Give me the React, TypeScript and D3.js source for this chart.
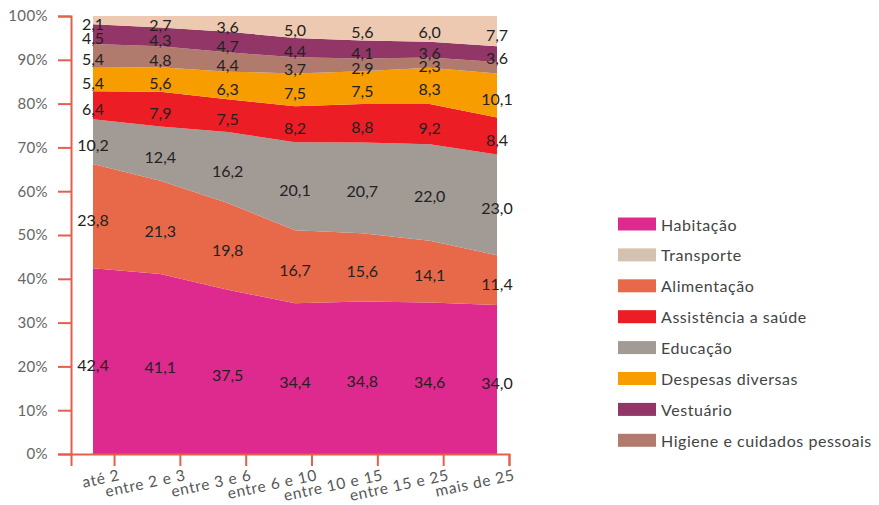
import React, { useEffect, useRef } from 'react';
import * as d3 from 'd3';

// Faixas de renda (salários mínimos)
const incomeBands = ['até 2', 'entre 2 e 3', 'entre 3 e 6', 'entre 6 e 10', 'entre 10 e 15', 'entre 15 e 25', 'mais de 25'];

// Participação de cada grupo de despesa (%)
const habitacao = [42.4, 41.1, 37.5, 34.4, 34.8, 34.6, 34.0];
const alimentacao = [23.8, 21.3, 19.8, 16.7, 15.6, 14.1, 11.4];
const educacao = [10.2, 12.4, 16.2, 20.1, 20.7, 22.0, 23.0];
const assistencia = [6.4, 7.9, 7.5, 8.2, 8.8, 9.2, 8.4];
const despesas = [5.4, 5.6, 6.3, 7.5, 7.5, 8.3, 10.1];
const higiene = [5.4, 4.8, 4.4, 3.7, 2.9, 2.3, 2.6];
const vestuario = [4.5, 4.3, 4.7, 4.4, 4.1, 3.6, 3.6];
const transporte = [2.1, 2.7, 3.6, 5.0, 5.6, 6.0, 7.7];

// Values printed on the chart (null = no label)
const higieneLabels = [5.4, 4.8, 4.4, 3.7, 2.9, 2.3, null];

const yTicks = [0, 10, 20, 30, 40, 50, 60, 70, 80, 90, 100];

type Series = { key: string; name: string; values: number[]; labels: (number | null)[]; color: string; swatch: string };

// Stack order, bottom to top
const series: Series[] = [
  { key: 'hab', name: 'Habitação', values: habitacao, labels: habitacao, color: '#de2a8e', swatch: '#de2a8e' },
  { key: 'ali', name: 'Alimentação', values: alimentacao, labels: alimentacao, color: '#e8694a', swatch: '#e8694a' },
  { key: 'edu', name: 'Educação', values: educacao, labels: educacao, color: '#a19a95', swatch: '#a19a95' },
  { key: 'sau', name: 'Assistência a saúde', values: assistencia, labels: assistencia, color: '#ec1d25', swatch: '#ec1d25' },
  { key: 'div', name: 'Despesas diversas', values: despesas, labels: despesas, color: '#f89d00', swatch: '#f89d00' },
  { key: 'hig', name: 'Higiene e cuidados pessoais', values: higiene, labels: higieneLabels, color: '#b07a6c', swatch: '#b07a6c' },
  { key: 'ves', name: 'Vestuário', values: vestuario, labels: vestuario, color: '#923667', swatch: '#923667' },
  { key: 'tra', name: 'Transporte', values: transporte, labels: transporte, color: '#edc9b1', swatch: '#d4c1af' },
];

const legendOrder = ['hab', 'tra', 'ali', 'sau', 'edu', 'div', 'ves', 'hig'];

const W = 879;
const H = 505;
const FONT = 'Lato, "Open Sans", sans-serif';
const AXIS = '#e2614e';

const fmt = (v: number) => v.toFixed(1).replace('.', ',');

export default function App() {
  const xAxisRef = useRef<SVGGElement>(null);
  const yAxisRef = useRef<SVGGElement>(null);

  const y = d3.scaleLinear().domain([0, 100]).range([454, 16]);
  const x = d3.scalePoint<string>().domain(incomeBands).range([93, 497]);
  const xAxisScale = d3.scalePoint<string>().domain(incomeBands).range([71, 509]).padding(0.327).align(1);

  const rows = incomeBands.map((band, i) => {
    const row: Record<string, number | string> = { band };
    series.forEach((s) => (row[s.key] = s.values[i]));
    return row;
  });
  const stacked = d3.stack<Record<string, number | string>>().keys(series.map((s) => s.key))(rows as any);

  const area = d3
    .area<d3.SeriesPoint<Record<string, number | string>>>()
    .x((d) => x(d.data.band as string)!)
    .y0((d) => y(d[0]))
    .y1((d) => y(d[1]))
    .curve(d3.curveLinear);

  useEffect(() => {
    const gx = d3.select(xAxisRef.current!);
    gx.selectAll('*').remove();
    gx.call(d3.axisBottom(xAxisScale).tickSize(12).tickSizeOuter(12));
    gx.selectAll('path, line').attr('stroke', AXIS).attr('stroke-width', 2);
    gx.selectAll('text')
      .attr('x', 0)
      .attr('y', 0)
      .attr('dy', 0)
      .attr('transform', 'translate(6,26) rotate(-12)')
      .attr('text-anchor', 'end')
      .attr('fill', '#555')
      .style('font-family', FONT)
      .style('font-size', '15.5px')
      .style('letter-spacing', '0.7px');

    const gy = d3.select(yAxisRef.current!);
    gy.selectAll('*').remove();
    gy.call(
      d3
        .axisLeft(y)
        .tickValues(yTicks)
        .tickFormat((d) => `${d}%`)
        .tickSize(13)
        .tickSizeOuter(13)
        .tickPadding(10)
    );
    gy.selectAll('path, line').attr('stroke', AXIS).attr('stroke-width', 2);
    gy.selectAll('text')
      .attr('fill', '#666')
      .style('font-family', FONT)
      .style('font-size', '15px')
      .style('letter-spacing', '0.4px');
  }, []);

  const top = y(100);

  return (
    <svg width={W} height={H} style={{ position: 'absolute', left: 0, top: 0, background: '#fff' }}>
      <defs>
        <clipPath id="plot-clip">
          <rect x={0} y={top} width={W} height={y(0) - top} />
        </clipPath>
      </defs>

      <g clipPath="url(#plot-clip)">
        {stacked.map((layer, li) => (
          <path key={layer.key} d={area(layer) ?? ''} fill={series[li].color} />
        ))}
      </g>

      <g ref={xAxisRef} transform={`translate(0,${y(0)})`} />
      <g ref={yAxisRef} transform={`translate(71,0)`} />

      <g style={{ fontFamily: FONT, fontSize: '16px' }} fill="#222">
        {stacked.map((layer, li) =>
          layer.map((d, i) => {
            const v = series[li].labels[i];
            if (v == null) return null;
            const mid = (d[0] + Math.min(d[1], 100)) / 2;
            return (
              <text
                key={`${layer.key}-${i}`}
                x={x(incomeBands[i])!}
                y={y(mid) + 3}
                textAnchor="middle"
                dominantBaseline="central"
              >
                {fmt(v)}
              </text>
            );
          })
        )}
      </g>

      <g style={{ fontFamily: FONT, fontSize: '16px', letterSpacing: '0.55px' }}>
        {legendOrder.map((k, i) => {
          const s = series.find((ss) => ss.key === k)!;
          const cy = 224 + i * 30.9;
          return (
            <g key={k} transform={`translate(618,${cy})`}>
              <rect x={0} y={-6.5} width={38} height={13} fill={s.swatch} />
              <text x={43} y={0} dominantBaseline="central" fill="#444">
                {s.name}
              </text>
            </g>
          );
        })}
      </g>
    </svg>
  );
}
